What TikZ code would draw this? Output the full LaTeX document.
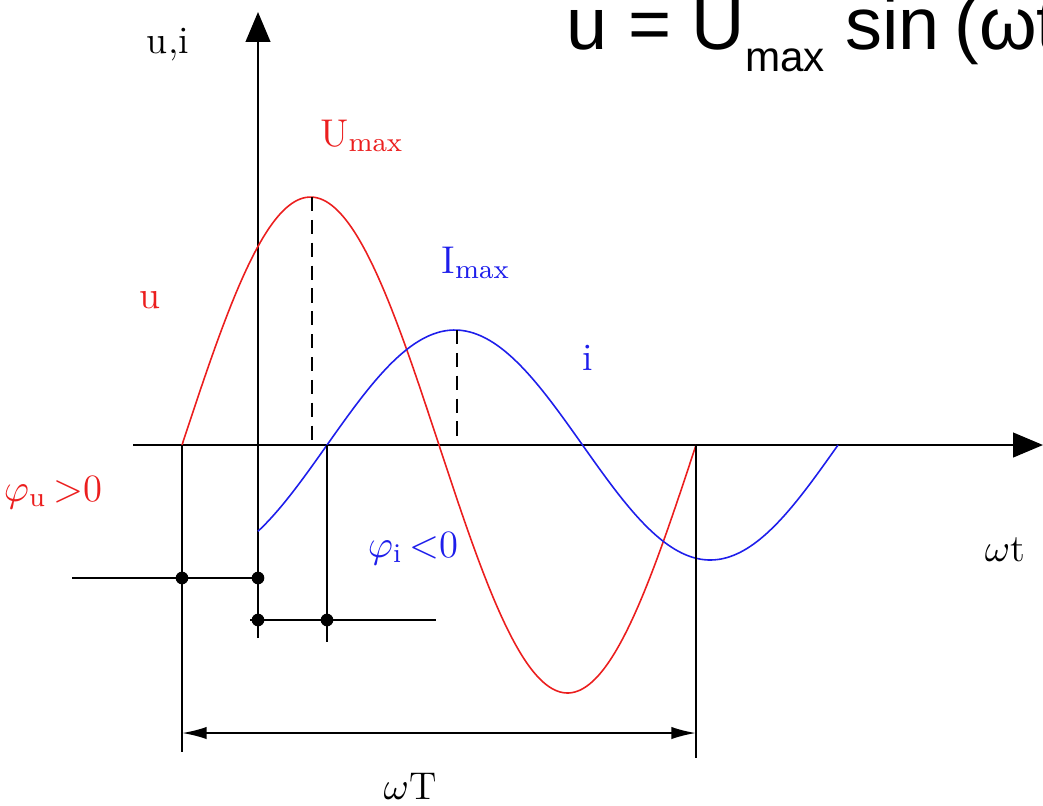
\documentclass[tikz,border=0pt]{standalone}
\usepackage{fontspec}
\usepackage{amsmath}
\usetikzlibrary{arrows.meta, positioning}
\newfontfamily\formulafont{Liberation Sans}
\definecolor{ured}{RGB}{235,30,30}
\definecolor{iblue}{RGB}{30,30,235}
\tikzset{
  axis/.style={line width=0.6pt, -{Triangle[length=8.5pt, width=7pt]}},
  guide/.style={line width=0.55pt, draw=black},
  peak/.style={line width=0.55pt, dashed, dash pattern=on 4pt off 2.5pt},
  ucurve/.style={draw=ured, line width=0.45pt, smooth},
  icurve/.style={draw=iblue, line width=0.45pt, smooth},
  dot/.style={circle, fill=black, inner sep=0pt, minimum size=3.6pt},
  dimline/.style={line width=0.55pt, {Latex[length=7pt, width=3.5pt]}-{Latex[length=7pt, width=3.5pt]}},
  lbl/.style={font=\fontsize{11}{13}\selectfont, inner sep=1pt},
}

\begin{document}
\begin{tikzpicture}[x=0.01cm, y=-0.01cm]
  \useasboundingbox (0,0) rectangle (1043,805);

  % Axes
  \coordinate (xl) at (133,445);
  \coordinate (xr) at (1043,445);
  \coordinate (yb) at (258,638);
  \coordinate (yt) at (258,12);
  \draw[axis] (xl) -- (xr);
  \draw[axis] (yb) -- (yt);

  % Curves
  \draw[ucurve] plot[domain=182:696, samples=90] (\x, {445-248*sin((\x-182)/514*360)});
  \draw[icurve] plot[domain=258:838, samples=90] (\x, {445-115*sin((\x-327)/511*360)});

  % Peaks
  \coordinate (umax) at (312,197);
  \coordinate (umaxb) at (312,445);
  \coordinate (imax) at (457,330);
  \coordinate (imaxb) at (457,445);
  \draw[peak] (umax) -- (umaxb);
  \draw[peak] (imax) -- (imaxb);

  % Zero crossings
  \coordinate (u0) at (182,445);
  \coordinate (u0b) at (182,752);
  \coordinate (uT) at (696,445);
  \coordinate (uTb) at (696,758);
  \coordinate (i0) at (327,445);
  \coordinate (i0b) at (327,642);
  \draw[guide] (u0) -- (u0b);
  \draw[guide] (uT) -- (uTb);
  \draw[guide] (i0) -- (i0b);

  % Phase markers
  \coordinate (pul) at (72,578);
  \coordinate (pur) at (262,578);
  \coordinate (pil) at (250,620);
  \coordinate (pir) at (436,620);
  \draw[guide] (pul) -- (pur);
  \draw[guide] (pil) -- (pir);
  \node[dot] (du0) at (182,578) {};
  \node[dot] (du1) at (258,578) {};
  \node[dot] (di0) at (258,620) {};
  \node[dot] (di1) at (327,620) {};

  % Period
  \coordinate (dl) at (182,733);
  \coordinate (dr) at (696,733);
  \draw[dimline] (dl) -- (dr);

  % Labels
  \node[lbl] (ui) at (168,45) {u,i};
  \node[lbl, text=ured] (umaxl) at (362,136) {U\textsubscript{max}};
  \node[lbl, text=iblue] (imaxl) at (476,263) {I\textsubscript{max}};
  \node[lbl, text=ured] (ul) at (150,300) {u};
  \node[lbl, text=iblue] (il) at (588,358) {i};
  \node[lbl, text=ured] (phiu) at (53,492) {$\varphi_{\mathrm{u}}$\,$>$0};
  \node[lbl, text=iblue] (phii) at (413,548) {$\varphi_{\mathrm{i}}$\,$<$0};
  \node[lbl] (wt) at (1005,550) {$\omega$t};
  \node[lbl] (wT) at (410,786) {$\omega$T};

  % Formula
  \node[anchor=base west, inner sep=0pt, font=\formulafont\fontsize{21}{25}\selectfont] (formula) at (566,49)
    {u = U\raisebox{-6.5pt}{\fontsize{12}{13}\selectfont max} sin\hspace{0.2em}(ωt};
\end{tikzpicture}
\end{document}
